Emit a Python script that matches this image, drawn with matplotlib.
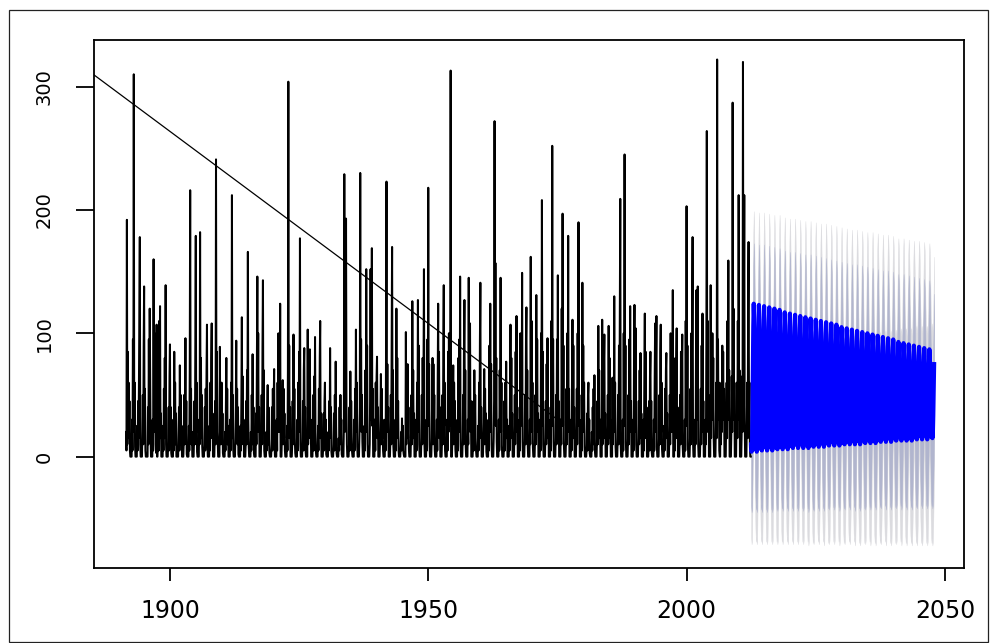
import matplotlib
matplotlib.use("Agg")
import matplotlib.pyplot as plt
import numpy as np
from matplotlib.patches import Rectangle

# monthly rainfall, one row per season (Jul .. Jun), seasons 1891/92 to 2011/12
first_season = 1891
rain = [
    [20, 5, 192, 10, 85, 20, 60, 15, 45, 5, 0, 0],
    [0, 0, 30, 5, 95, 20, 310, 25, 60, 8, 0, 0],
    [0, 0, 25, 5, 45, 15, 60, 120, 178, 10, 0, 0],
    [0, 0, 20, 50, 10, 90, 138, 15, 55, 5, 0, 0],
    [0, 0, 0, 40, 10, 95, 20, 120, 60, 15, 0, 0],
    [0, 0, 30, 5, 160, 30, 100, 20, 40, 10, 3, 107],
    [0, 0, 10, 45, 5, 110, 40, 122, 15, 35, 0, 0],
    [0, 0, 25, 5, 55, 15, 80, 20, 139, 10, 0, 0],
    [0, 0, 15, 40, 5, 65, 91, 10, 40, 3, 0, 0],
    [0, 0, 30, 5, 85, 15, 60, 10, 35, 0, 0, 0],
    [0, 0, 20, 40, 5, 74, 20, 50, 10, 25, 0, 0],
    [0, 0, 10, 50, 10, 40, 96, 15, 45, 2, 0, 0],
    [0, 0, 25, 5, 70, 216, 25, 55, 10, 20, 0, 0],
    [0, 0, 15, 45, 10, 90, 179, 20, 60, 4, 0, 0],
    [0, 0, 30, 10, 182, 25, 80, 15, 50, 8, 0, 0],
    [0, 0, 10, 40, 5, 55, 20, 70, 107, 10, 0, 0],
    [0, 0, 25, 5, 60, 20, 80, 108, 15, 35, 0, 0],
    [0, 0, 15, 45, 10, 241, 30, 85, 20, 12, 0, 0],
    [0, 0, 89, 10, 45, 15, 60, 10, 35, 3, 0, 0],
    [0, 0, 20, 5, 45, 80, 15, 55, 10, 25, 0, 0],
    [0, 0, 30, 5, 60, 20, 212, 15, 50, 6, 0, 0],
    [0, 0, 15, 40, 94, 15, 55, 10, 40, 2, 0, 0],
    [0, 0, 25, 5, 50, 113, 20, 65, 10, 30, 0, 0],
    [0, 0, 10, 45, 10, 70, 25, 166, 30, 8, 0, 0],
    [0, 0, 20, 5, 50, 15, 83, 10, 40, 3, 0, 0],
    [0, 0, 35, 10, 75, 146, 30, 100, 20, 40, 0, 0],
    [0, 0, 15, 50, 10, 90, 143, 25, 70, 5, 0, 0],
    [0, 0, 20, 5, 35, 58, 10, 40, 15, 3, 0, 0],
    [0, 0, 10, 40, 5, 55, 15, 45, 71, 8, 0, 0],
    [0, 0, 30, 5, 60, 20, 100, 25, 70, 20, 124, 0],
    [0, 0, 15, 40, 62, 10, 55, 15, 35, 5, 0, 0],
    [0, 0, 25, 5, 70, 304, 30, 90, 15, 40, 0, 0],
    [0, 0, 10, 45, 10, 99, 25, 55, 15, 3, 0, 0],
    [0, 0, 30, 5, 60, 20, 85, 40, 177, 10, 0, 0],
    [0, 0, 15, 45, 5, 70, 88, 15, 40, 5, 0, 0],
    [0, 0, 103, 10, 50, 15, 60, 87, 20, 30, 0, 0],
    [0, 0, 20, 50, 5, 65, 15, 97, 20, 4, 0, 0],
    [0, 0, 25, 5, 55, 20, 80, 110, 15, 35, 0, 0],
    [0, 0, 10, 35, 5, 45, 60, 10, 30, 2, 0, 0],
    [0, 0, 20, 5, 45, 15, 88, 20, 40, 4, 0, 0],
    [0, 0, 10, 35, 5, 50, 15, 77, 25, 3, 0, 0],
    [0, 0, 15, 5, 40, 10, 50, 15, 30, 2, 0, 0],
    [0, 0, 25, 229, 20, 90, 30, 193, 40, 10, 0, 0],
    [0, 0, 10, 40, 5, 69, 15, 45, 20, 4, 0, 0],
    [0, 0, 30, 5, 55, 20, 103, 25, 60, 8, 0, 0],
    [0, 0, 15, 40, 230, 25, 95, 20, 50, 12, 0, 0],
    [0, 0, 25, 5, 70, 20, 152, 40, 90, 10, 0, 0],
    [0, 0, 10, 45, 152, 30, 100, 169, 25, 55, 0, 0],
    [0, 0, 30, 5, 60, 20, 65, 81, 15, 40, 0, 0],
    [0, 0, 15, 35, 67, 10, 55, 15, 30, 5, 0, 0],
    [0, 0, 30, 5, 90, 223, 30, 75, 20, 40, 0, 0],
    [0, 0, 15, 50, 10, 100, 170, 25, 70, 8, 0, 0],
    [0, 0, 30, 5, 120, 20, 80, 15, 45, 5, 0, 0],
    [0, 0, 10, 20, 5, 31, 10, 25, 5, 2, 0, 0],
    [0, 0, 101, 10, 60, 20, 75, 15, 40, 6, 0, 0],
    [0, 0, 20, 50, 10, 126, 30, 70, 15, 35, 0, 0],
    [0, 0, 30, 5, 60, 25, 127, 20, 90, 10, 0, 0],
    [0, 0, 15, 50, 10, 80, 30, 70, 152, 12, 0, 0],
    [0, 0, 30, 5, 95, 25, 218, 40, 75, 10, 0, 0],
    [0, 0, 15, 45, 80, 10, 75, 20, 50, 6, 0, 0],
    [0, 0, 30, 5, 60, 124, 20, 85, 15, 40, 0, 0],
    [0, 0, 15, 50, 10, 90, 139, 25, 60, 5, 0, 0],
    [0, 0, 30, 5, 85, 20, 100, 25, 70, 30, 313, 0],
    [0, 0, 15, 40, 74, 10, 60, 20, 45, 6, 0, 0],
    [0, 0, 30, 5, 80, 25, 95, 20, 146, 10, 0, 0],
    [0, 0, 15, 50, 10, 90, 127, 25, 70, 8, 0, 0],
    [0, 0, 30, 10, 145, 25, 95, 108, 20, 45, 0, 0],
    [0, 0, 10, 45, 5, 70, 20, 50, 15, 5, 0, 0],
    [0, 0, 25, 5, 60, 20, 95, 141, 15, 40, 0, 0],
    [0, 0, 15, 35, 71, 10, 55, 15, 35, 4, 0, 0],
    [0, 0, 30, 5, 90, 25, 124, 20, 75, 10, 0, 0],
    [0, 0, 15, 45, 272, 30, 157, 25, 80, 12, 0, 0],
    [0, 0, 30, 5, 70, 25, 145, 20, 60, 8, 0, 0],
    [0, 0, 10, 45, 5, 60, 20, 77, 15, 30, 0, 0],
    [0, 0, 25, 5, 60, 107, 20, 80, 15, 35, 0, 0],
    [0, 0, 15, 50, 10, 85, 30, 114, 20, 40, 0, 0],
    [0, 0, 30, 5, 100, 25, 90, 30, 149, 12, 0, 0],
    [0, 0, 15, 50, 10, 95, 121, 25, 70, 10, 0, 0],
    [0, 0, 30, 10, 162, 30, 110, 20, 60, 8, 0, 0],
    [0, 0, 15, 50, 10, 131, 25, 95, 20, 35, 0, 0],
    [0, 0, 30, 5, 100, 25, 208, 30, 85, 10, 0, 0],
    [0, 0, 15, 45, 10, 75, 20, 96, 15, 40, 0, 0],
    [0, 0, 30, 5, 110, 30, 252, 25, 95, 12, 0, 0],
    [0, 0, 15, 50, 10, 95, 30, 147, 20, 45, 0, 0],
    [0, 0, 30, 10, 120, 30, 197, 25, 90, 10, 0, 0],
    [0, 0, 15, 55, 10, 100, 30, 179, 20, 55, 0, 0],
    [0, 0, 30, 5, 70, 111, 20, 90, 15, 40, 0, 0],
    [0, 0, 15, 55, 10, 100, 30, 190, 25, 50, 0, 0],
    [0, 0, 30, 5, 141, 25, 90, 20, 60, 8, 0, 0],
    [0, 0, 10, 35, 5, 50, 60, 10, 30, 3, 0, 0],
    [0, 0, 20, 5, 40, 15, 55, 10, 66, 5, 0, 0],
    [0, 0, 15, 45, 10, 106, 25, 70, 15, 30, 0, 0],
    [0, 0, 111, 10, 55, 20, 75, 99, 15, 35, 0, 0],
    [0, 0, 20, 50, 10, 106, 25, 80, 15, 30, 0, 0],
    [0, 0, 64, 10, 55, 20, 130, 25, 60, 8, 0, 0],
    [0, 0, 15, 50, 10, 90, 30, 110, 209, 10, 0, 0],
    [0, 0, 30, 5, 100, 25, 245, 30, 90, 12, 0, 0],
    [0, 0, 15, 50, 10, 95, 30, 122, 20, 45, 0, 0],
    [0, 0, 30, 5, 80, 123, 20, 70, 104, 10, 0, 0],
    [0, 0, 15, 45, 10, 70, 20, 84, 15, 35, 0, 0],
    [0, 0, 30, 5, 70, 116, 20, 85, 15, 40, 0, 0],
    [0, 0, 15, 45, 5, 65, 85, 15, 45, 4, 0, 0],
    [0, 0, 30, 5, 65, 108, 20, 80, 114, 8, 0, 0],
    [0, 0, 15, 50, 10, 85, 107, 20, 60, 6, 0, 0],
    [0, 0, 25, 5, 55, 20, 70, 84, 15, 35, 0, 0],
    [0, 0, 15, 50, 10, 100, 25, 85, 20, 50, 135, 0],
    [0, 0, 30, 5, 80, 20, 75, 104, 15, 40, 0, 0],
    [0, 0, 15, 50, 10, 85, 25, 70, 99, 8, 0, 0],
    [0, 0, 30, 5, 110, 30, 203, 25, 90, 10, 0, 0],
    [0, 0, 15, 55, 10, 100, 30, 120, 178, 12, 0, 0],
    [0, 0, 30, 10, 90, 135, 30, 110, 138, 10, 0, 0],
    [0, 0, 15, 55, 10, 90, 30, 116, 20, 45, 0, 0],
    [0, 0, 30, 10, 95, 264, 30, 110, 20, 50, 0, 0],
    [0, 0, 139, 15, 85, 30, 100, 40, 80, 15, 0, 0],
    [0, 0, 25, 60, 15, 322, 40, 95, 30, 60, 5, 0],
    [0, 55, 10, 60, 20, 90, 40, 85, 30, 55, 0, 0],
    [0, 0, 30, 60, 15, 110, 40, 159, 30, 70, 0, 0],
    [0, 0, 20, 65, 20, 287, 40, 120, 30, 60, 0, 0],
    [0, 0, 30, 60, 15, 110, 40, 212, 30, 70, 0, 0],
    [0, 0, 20, 65, 20, 320, 45, 110, 212, 30, 0, 0],
    [0, 0, 30, 60, 15, 120, 174, 35, 60, 10, 0, 0],
]

# point forecast, one row per season (Jul .. Jun) from 2012/13
fc_start = 2012.5
fc_len = 426
fc_mean = [
    [10, 4, 7, 34, 70, 106, 124, 112, 82, 40, 16, 6],
    [10, 4, 7, 34, 69, 105, 123, 111, 81, 40, 16, 6],
    [11, 5, 8, 34, 69, 104, 122, 110, 81, 40, 17, 7],
    [11, 5, 8, 34, 69, 104, 121, 109, 80, 40, 17, 7],
    [11, 5, 8, 34, 68, 103, 120, 108, 80, 40, 17, 7],
    [12, 6, 9, 34, 68, 102, 119, 108, 79, 40, 17, 8],
    [12, 6, 9, 34, 67, 100, 117, 106, 78, 39, 17, 8],
    [12, 6, 9, 34, 67, 100, 116, 105, 78, 39, 17, 8],
    [13, 7, 10, 34, 66, 99, 115, 104, 77, 39, 18, 9],
    [13, 7, 10, 34, 66, 98, 114, 103, 77, 39, 18, 9],
    [13, 7, 10, 34, 65, 97, 113, 102, 76, 39, 18, 9],
    [13, 7, 10, 33, 65, 96, 112, 101, 75, 39, 18, 9],
    [14, 8, 11, 34, 65, 96, 111, 101, 75, 39, 18, 10],
    [14, 8, 11, 34, 64, 95, 110, 100, 74, 39, 18, 10],
    [14, 8, 11, 33, 64, 94, 109, 99, 74, 38, 18, 10],
    [15, 9, 12, 34, 63, 93, 108, 98, 73, 39, 19, 11],
    [15, 9, 12, 34, 63, 92, 107, 97, 73, 38, 19, 11],
    [15, 9, 12, 33, 62, 91, 105, 95, 71, 38, 19, 11],
    [16, 10, 13, 34, 62, 90, 104, 95, 71, 38, 19, 12],
    [16, 10, 13, 33, 61, 89, 103, 94, 70, 38, 19, 12],
    [16, 10, 13, 33, 61, 88, 102, 93, 70, 38, 19, 12],
    [16, 10, 13, 33, 60, 87, 101, 92, 69, 37, 19, 12],
    [17, 11, 14, 33, 60, 87, 100, 91, 69, 38, 20, 13],
    [17, 11, 14, 33, 59, 86, 99, 90, 68, 37, 20, 13],
    [17, 11, 14, 33, 59, 85, 98, 89, 68, 37, 20, 13],
    [18, 12, 15, 33, 59, 84, 97, 89, 67, 37, 20, 14],
    [18, 12, 15, 33, 58, 83, 96, 88, 67, 37, 20, 14],
    [18, 12, 15, 33, 58, 83, 95, 87, 66, 37, 20, 14],
    [19, 13, 16, 33, 57, 81, 93, 85, 65, 37, 21, 15],
    [19, 13, 16, 33, 56, 80, 92, 84, 64, 37, 21, 15],
    [19, 13, 16, 33, 56, 79, 91, 83, 64, 36, 21, 15],
    [19, 13, 16, 32, 55, 78, 90, 82, 63, 36, 21, 15],
    [20, 14, 17, 33, 55, 78, 89, 82, 63, 37, 22, 16],
    [20, 14, 17, 33, 55, 77, 88, 81, 62, 36, 21, 16],
    [20, 14, 17, 32, 54, 76, 87, 80, 61, 36, 21, 16],
    [21, 15, 18, 33, 54, 75, 86, 79, 61, 36, 22, 17],
]
# half widths of the 80% and 95% intervals, per forecast season
fc_hw80 = [49, 49, 50, 50, 50, 50, 50, 50, 51, 51, 51, 52, 52, 52, 52, 52, 52, 53,
           53, 53, 54, 54, 54, 54, 54, 54, 55, 55, 55, 56, 56, 56, 56, 56, 56, 57]
fc_hw95 = [75, 75, 76, 76, 76, 77, 77, 77, 78, 78, 78, 79, 79, 79, 80, 80, 80, 81,
           81, 81, 82, 82, 82, 83, 83, 83, 84, 84, 84, 85, 85, 85, 86, 86, 86, 87]

# straight trend segment drawn over the series
trend_x = [1880.0, 1976.0]
trend_y = [326.0, 27.0]

x_ticks = [1900, 1950, 2000, 2050]
y_ticks = [0, 100, 200, 300]

obs = np.array(rain, dtype=float).ravel()
t_obs = first_season + 0.5 + np.arange(len(obs)) / 12.0

fc = np.array(fc_mean, dtype=float).ravel()[:fc_len]
hw80 = np.repeat(fc_hw80, 12)[:fc_len]
hw95 = np.repeat(fc_hw95, 12)[:fc_len]
t_fc = fc_start + np.arange(fc_len) / 12.0

fig = plt.figure(figsize=(9.9, 6.43), dpi=100)
ax = fig.add_axes([94 / 990, 1 - 568 / 643, (964 - 94) / 990, (568 - 40) / 643])

ax.fill_between(t_fc, fc - hw95, fc + hw95, color='#DBDBDF', lw=0.3, edgecolor='#DBDBDF')
ax.fill_between(t_fc, fc - hw80, fc + hw80, color='#B1B5CE', lw=0.3, edgecolor='#B1B5CE')
ax.plot(t_obs, obs, color='black', lw=1.45)
ax.plot(t_fc, fc, color='#0000FF', lw=3.0)
ax.plot(trend_x, trend_y, color='black', lw=0.9)

ax.set_xlim(1885.3, 2053.7)
ax.set_ylim(-90.3, 337.8)
ax.set_xticks(x_ticks)
ax.set_yticks(y_ticks)
ax.set_xticklabels([str(v) for v in x_ticks], fontsize=17, family='DejaVu Sans')
ax.set_yticklabels([str(v) for v in y_ticks], fontsize=14, family='DejaVu Sans',
                   rotation=90, va='center')
ax.tick_params(axis='x', direction='out', length=9.5, width=1.3, pad=13)
ax.tick_params(axis='y', direction='out', length=13, width=1.3, pad=16)
for s in ax.spines.values():
    s.set_linewidth(1.3)

# outer frame of the device
fig.patches.append(Rectangle((9 / 990, 0.002), (988 - 9) / 990, 1 - 10 / 643 - 0.002,
                             transform=fig.transFigure, fill=False,
                             edgecolor='#222222', lw=0.9))

fig.savefig('out.png', dpi=100)
